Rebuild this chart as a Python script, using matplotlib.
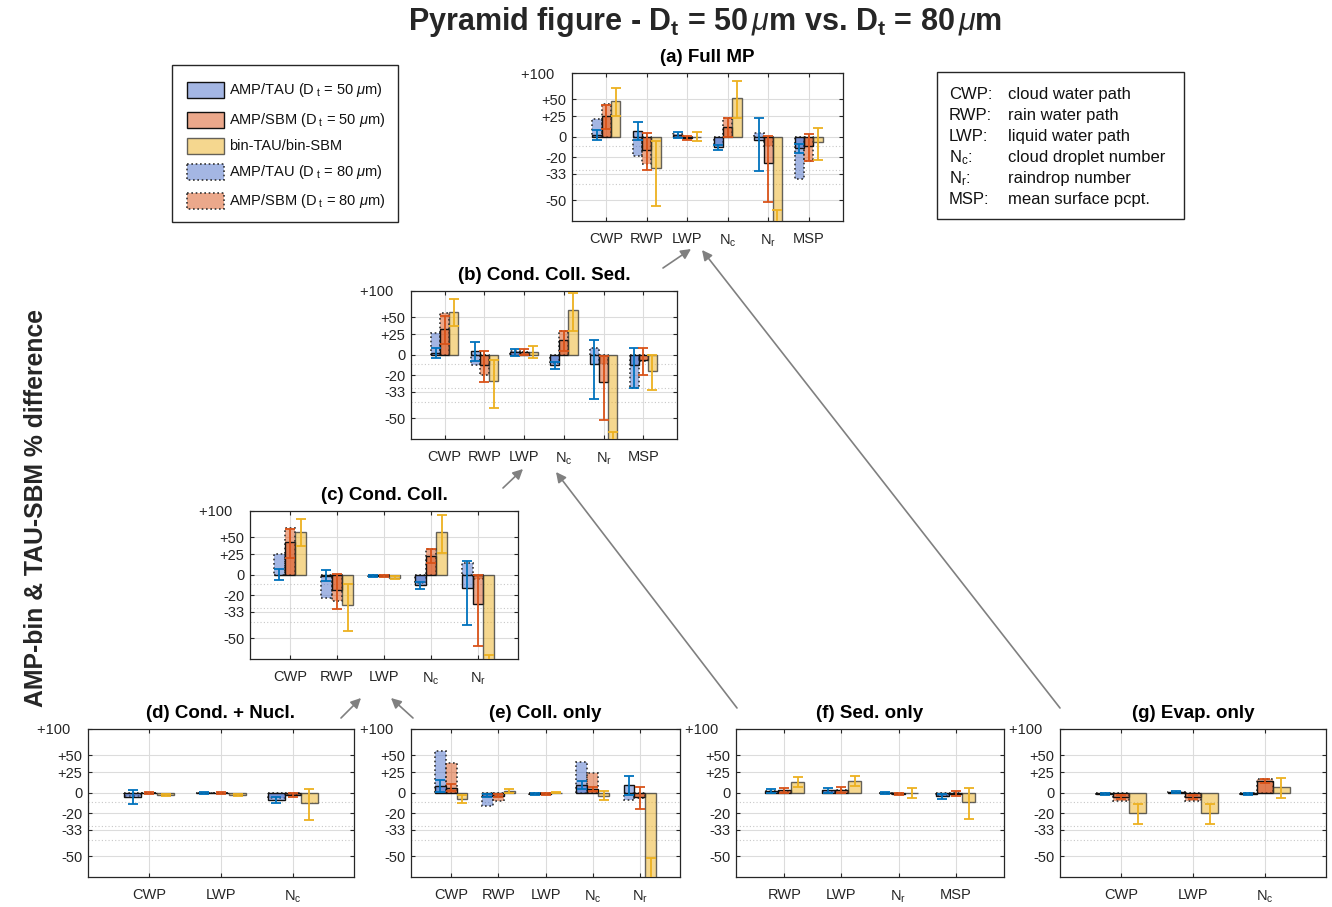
import numpy as np
import matplotlib
matplotlib.use("Agg")
import matplotlib.pyplot as plt
from matplotlib.colors import to_rgba
from matplotlib.patches import Rectangle, FancyArrowPatch

plt.rcParams['font.family'] = ['Liberation Sans', 'DejaVu Sans']
plt.rcParams['mathtext.fontset'] = 'custom'
plt.rcParams['mathtext.rm'] = 'Liberation Sans'
plt.rcParams['mathtext.it'] = 'Liberation Sans:italic'
plt.rcParams['mathtext.bf'] = 'Liberation Sans:bold'

# ---------------------------------------------------------------- data
PANEL_TITLES = ["(a) Full MP", "(b) Cond. Coll. Sed.", "(c) Cond. Coll.",
                "(d) Cond. + Nucl.", "(e) Coll. only", "(f) Sed. only",
                "(g) Evap. only"]

CATEGORIES = [
    ["CWP", "RWP", "LWP", "Nc", "Nr", "MSP"],
    ["CWP", "RWP", "LWP", "Nc", "Nr", "MSP"],
    ["CWP", "RWP", "LWP", "Nc", "Nr"],
    ["CWP", "LWP", "Nc"],
    ["CWP", "RWP", "LWP", "Nc", "Nr"],
    ["RWP", "LWP", "Nr", "MSP"],
    ["CWP", "LWP", "Nc"],
]

# % difference, AMP/TAU with threshold diameter 50 um and 80 um
TAU50 = [[2, 7, 2, -11, -4, -12],
         [2, 4, 3, -11, -10, -11],
         [0, -1, -1, -11, -13],
         [-4.5, -0.5, -7.5],
         [8, -3, -1, 9, 9],
         [2, 2.5, -0.5, -4],
         [-1.5, 1, -1.5]]
TAU80 = [[21, -19, 3, -9, 4, -37],
         [27, -11, 4, -9, 8, -30],
         [25, -22, -1, -9, 14],
         [-3, -0.5, -6],
         [57, -13, -1, 40, -8],
         [2, 2, -0.5, -3],
         [-1, 1, -1]]
TAU_ERR = [[6, 10, 3, 2, 27, 4],
           [6, 11, 4, 3, 28, 19],
           [6, 6, 1, 3, 29],
           [7, 1, 3],
           [7, 2, 1, 4.5, 11],
           [2, 2.5, 1, 2.5],
           [1, 1, 1]]

# % difference, AMP/SBM with threshold diameter 50 um and 80 um
SBM50 = [[25, -13, -1, 11, -25, -10],
         [33, -11, 3, 17, -26, -6],
         [42, -15, -1, 23, -27],
         [-0.5, -0.5, -2.5],
         [5.5, -3, -1, 4, -5],
         [2.5, 3, -1.5, -1],
         [-4.5, -4.5, 14]]
SBM80 = [[43, -26, -1, 23, -10, -23],
         [58, -20, 3, 30, -10, -7],
         [66, -25, -1, 32, -5],
         [0, 0, -2],
         [38, -8.7, -1, 24, -6],
         [2, 2.5, -1, -1],
         [-9, -9, 16]]
SBM_ERR = [[16, 17, 2, 11, 26, 13],
           [20, 15, 3.5, 13, 25, 14],
           [22, 16, 1, 9, 27],
           [1, 1, 2],
           [4, 2, 1, 2, 11.5],
           [2.5, 3, 1, 2.7],
           [2.5, 2.5, 2.5]]

# % difference, bin-TAU / bin-SBM
BIN = [[47, -29, 0, 53, -75, -6],
       [60, -25, 3, 62, -75, -16],
       [60, -28, -3, 59, -75],
       [-2.5, -2.5, -10.5],
       [-6.5, 2, 0, -3, -72],
       [13, 14, -0.5, -10],
       [-20, -20, 6]]
BIN_ERR = [[22, 24, 5, 30, 20, 16],
           [24, 19, 7, 33, 18, 16],
           [23, 18, 1.5, 32, 17],
           [1.5, 1.5, 15],
           [4, 2, 0.5, 4.5, 21],
           [6, 6, 5.5, 15],
           [8.5, 8.5, 12]]

YTICKS = [-50, -33, -20, 0, 25, 50, 100]
YTICKLABELS = ["-50", "-33", "-20", "0", "+25", "+50", "+100   "]
YMINOR = [-40, -30, -10]

TICK_TEXT = {"CWP": "CWP", "RWP": "RWP", "LWP": "LWP", "MSP": "MSP",
             "Nc": r"N$_{\rm c}$", "Nr": r"N$_{\rm r}$"}

# ---------------------------------------------------------------- layout
W, H = 1332, 907
# axes boxes in pixels: left, top, right, bottom
BOXES = [(572, 73, 843, 221), (411, 291, 677, 439), (250, 511, 518, 659),
         (88, 729, 354, 877), (411, 729, 680, 877), (736, 729, 1004, 877),
         (1060, 729, 1326, 877)]

BLUE, ORANGE, YELLOW = "#4a6fc9", "#d95319", "#edb120"
EBLUE, EORANGE, EYELLOW = "#0072bd", "#d95319", "#edb120"
FACE_ALPHA = 0.5
BW = 0.23


def fwd(p):
    return np.log2(np.clip(1.0 + np.asarray(p, dtype=float) / 100.0, 1e-6, None))


def inv(y):
    return 100.0 * (2.0 ** np.asarray(y, dtype=float) - 1.0)


fig = plt.figure(figsize=(W / 100, H / 100), dpi=100)


def px_rect(box):
    l, t, r, b = box
    return [l / W, 1 - b / H, (r - l) / W, (b - t) / H]


solid_kw = dict(linewidth=1.0, linestyle='-')
dot_kw = dict(linewidth=1.2, linestyle=(0, (1, 1.6)))

for i, box in enumerate(BOXES):
    ax = fig.add_axes(px_rect(box))
    ax.set_yscale('function', functions=(fwd, inv))
    cats = CATEGORIES[i]
    n = len(cats)
    x = np.arange(1, n + 1)

    # Dt = 80 um (dotted outline) underneath, Dt = 50 um (solid outline) on top
    ax.bar(x - BW, TAU80[i], BW, color=to_rgba(BLUE, FACE_ALPHA),
           edgecolor="#333333", zorder=2, **dot_kw)
    ax.bar(x, SBM80[i], BW, color=to_rgba(ORANGE, FACE_ALPHA),
           edgecolor="#333333", zorder=2, **dot_kw)
    ax.bar(x - BW, TAU50[i], BW, color=to_rgba(BLUE, FACE_ALPHA),
           edgecolor="#111111", zorder=3, **solid_kw)
    ax.bar(x, SBM50[i], BW, color=to_rgba(ORANGE, FACE_ALPHA),
           edgecolor="#111111", zorder=3, **solid_kw)
    ax.bar(x + BW, BIN[i], BW, color=to_rgba(YELLOW, FACE_ALPHA),
           edgecolor=(0.2, 0.2, 0.2, 0.75), zorder=3, **solid_kw)

    ekw = dict(fmt='none', elinewidth=1.3, capsize=3.5, capthick=1.3, zorder=4)
    ax.errorbar(x - BW, TAU50[i], yerr=TAU_ERR[i], ecolor=EBLUE, **ekw)
    ax.errorbar(x, SBM50[i], yerr=SBM_ERR[i], ecolor=EORANGE, **ekw)
    ax.errorbar(x + BW, BIN[i], yerr=BIN_ERR[i], ecolor=EYELLOW, **ekw)

    ax.set_xlim(1 - 0.85, n + 0.85)
    ax.set_ylim(-60, 100)
    ax.set_yticks(YTICKS)
    ax.set_yticklabels(YTICKLABELS)
    ax.set_yticks(YMINOR, minor=True)
    ax.set_xticks(x)
    ax.set_xticklabels([TICK_TEXT[c] for c in cats])
    ax.tick_params(axis='both', which='major', direction='in', length=3,
                   width=0.8, labelsize=10.5, colors="#262626",
                   top=True, right=True)
    ax.tick_params(axis='y', which='major', pad=4)
    ax.tick_params(axis='x', which='major', pad=8)
    ax.tick_params(axis='y', which='minor', length=0)
    ax.set_axisbelow(True)
    ax.grid(True, which='major', color="#dcdcdc", linewidth=0.8)
    ax.grid(True, which='minor', axis='y', color="#c8c8c8",
            linewidth=0.8, linestyle=(0, (1, 2)))
    for sp in ax.spines.values():
        sp.set_color("#262626")
        sp.set_linewidth(0.9)
    ax.set_title(PANEL_TITLES[i], fontsize=13.5, fontweight='bold', pad=8)

# ---------------------------------------------------------------- annotations
ov = fig.add_axes([0, 0, 1, 1])
ov.set_xlim(0, W)
ov.set_ylim(H, 0)
ov.axis('off')
ov.patch.set_alpha(0)

ov.text(705, 22, r"Pyramid figure - D$_\mathbf{t}$ = 50$\,\mu$m vs. D$_\mathbf{t}$ = 80$\,\mu$m",
        fontsize=22, fontweight='bold', ha='center', va='center', color="#262626")
ov.text(36, 508, "AMP-bin & TAU-SBM % difference", rotation=90, fontsize=17.8,
        fontweight='bold', ha='center', va='center', color="#262626")

# legend box
ov.add_patch(Rectangle((172, 65), 226, 157, facecolor='white',
                       edgecolor="#262626", linewidth=1.0))
leg_entries = [
    (BLUE, "#111111", solid_kw, r"AMP/TAU (D$_{\ \rm t}$ = 50 $\mu$m)", 90),
    (ORANGE, "#111111", solid_kw, r"AMP/SBM (D$_{\ \rm t}$ = 50 $\mu$m)", 120),
    (YELLOW, (0.2, 0.2, 0.2, 0.75), solid_kw, "bin-TAU/bin-SBM", 146),
    (BLUE, "#333333", dot_kw, r"AMP/TAU (D$_{\ \rm t}$ = 80 $\mu$m)", 172),
    (ORANGE, "#333333", dot_kw, r"AMP/SBM (D$_{\ \rm t}$ = 80 $\mu$m)", 201),
]
for fc, ec, kw, label, yc in leg_entries:
    ov.add_patch(Rectangle((187, yc - 8), 37, 16, facecolor=to_rgba(fc, FACE_ALPHA),
                           edgecolor=ec, **kw))
    ov.text(229, yc, label, fontsize=10.5, ha='left', va='center', color="#111111")

# abbreviation box
ov.add_patch(Rectangle((937, 72), 247, 147, facecolor='white',
                       edgecolor="#262626", linewidth=1.0))
abbrevs = [("CWP:", "cloud water path"), ("RWP:", "rain water path"),
           ("LWP:", "liquid water path"), (r"N$_{\rm c}$:", "cloud droplet number"),
           (r"N$_{\rm r}$:", "raindrop number"), ("MSP:", "mean surface pcpt.")]
for k, (key, desc) in enumerate(abbrevs):
    yb = 99 + 21 * k
    ov.text(949, yb, key, fontsize=12, ha='left', va='baseline', color="#111111")
    ov.text(1008, yb, desc, fontsize=12, ha='left', va='baseline', color="#111111")

# arrows linking the process panels
arrows = [((663, 268), (691, 249)), ((1060, 708), (702, 250)),
          ((503, 488), (523, 469)), ((737, 708), (556, 472)),
          ((341, 718), (361, 698)), ((413, 718), (391, 698))]
for (x0, y0), (x1, y1) in arrows:
    ov.add_patch(FancyArrowPatch((x0, y0), (x1, y1), arrowstyle='-|>',
                                 mutation_scale=15, color="#808080",
                                 linewidth=1.2, shrinkA=0, shrinkB=0))

fig.savefig("out.png", dpi=100)
